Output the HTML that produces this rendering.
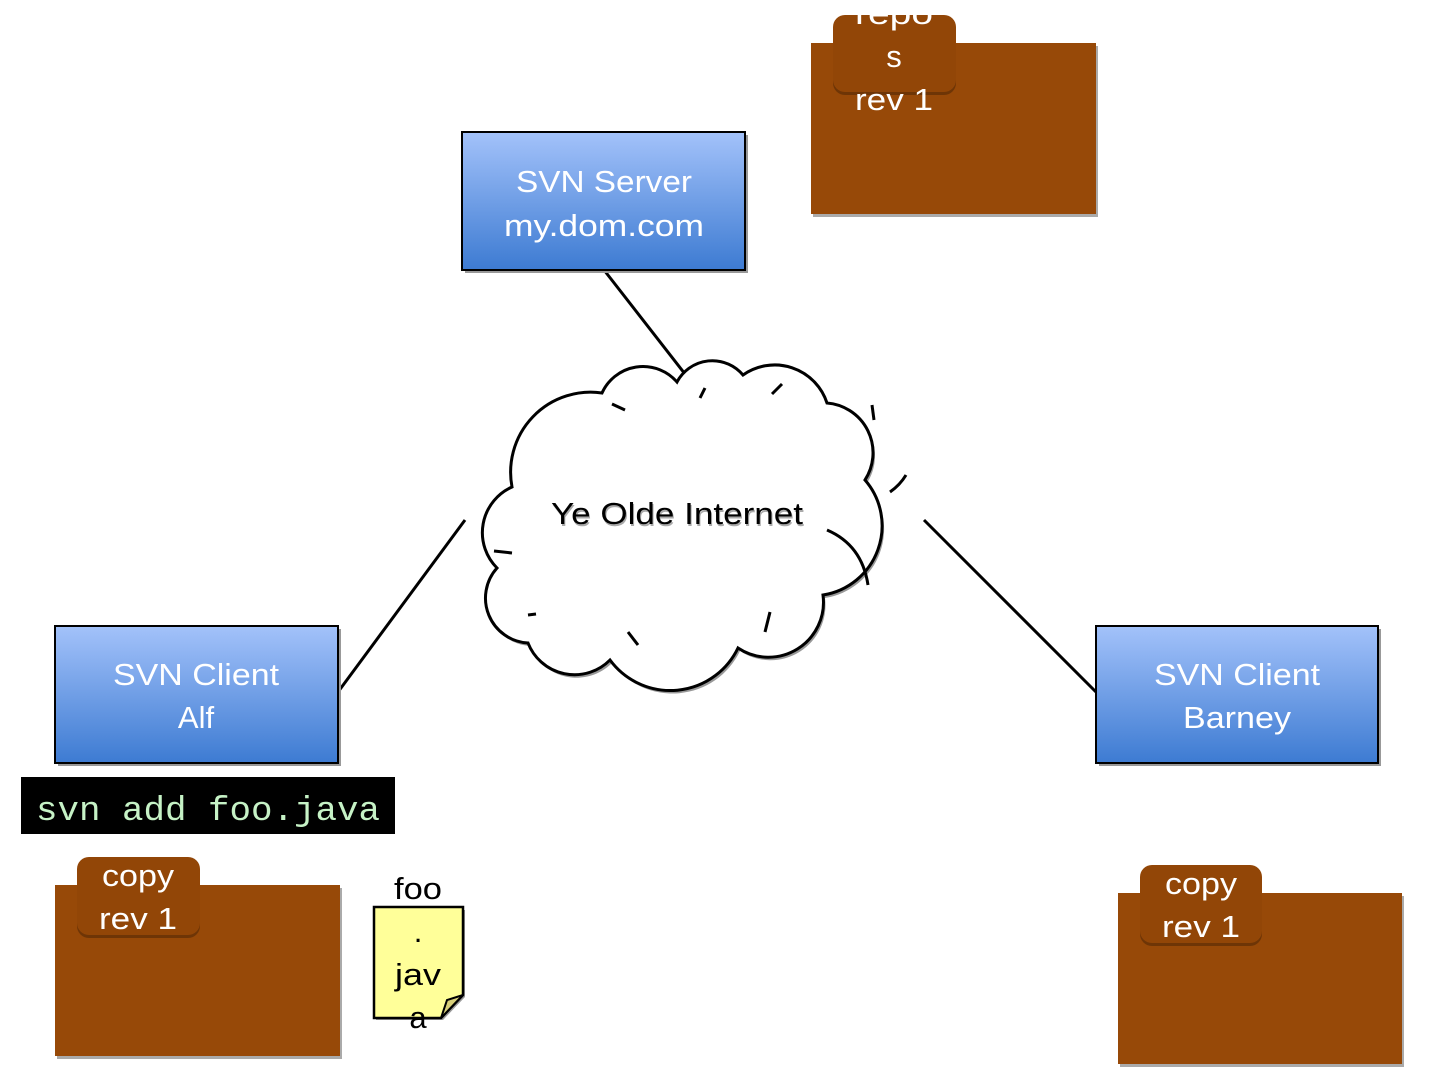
<!DOCTYPE html>
<html><head><meta charset="utf-8"><style>
html,body{margin:0;padding:0;background:#fff;}
svg{display:block;font-family:"Liberation Sans",sans-serif;}
</style></head><body>
<svg width="1440" height="1080" viewBox="0 0 1440 1080" xmlns="http://www.w3.org/2000/svg">
<defs>
<linearGradient id="bl" x1="0" y1="0" x2="0" y2="1">
<stop offset="0" stop-color="#a3c2fa"/><stop offset="1" stop-color="#3d7bd2"/>
</linearGradient>
</defs>
<g stroke="#000" stroke-width="3" fill="none">
<line x1="604" y1="270" x2="692" y2="383"/>
<line x1="338" y1="692" x2="465" y2="520"/>
<line x1="924" y1="520" x2="1096" y2="692"/>
</g>
<!-- repo folder -->
<rect x="813" y="46" width="285" height="171" fill="#aaa"/>
<rect x="811" y="43" width="285" height="171" fill="#974908"/>
<rect x="833" y="18" width="123" height="77" rx="12" fill="#6e3506"/>
<rect x="833" y="15" width="123" height="77" rx="12" fill="#924607"/>
<g fill="#fff" font-size="31" text-anchor="middle">
<text x="894" y="24" textLength="78" lengthAdjust="spacingAndGlyphs">repo</text><text x="894" y="67">s</text><text x="894" y="110" textLength="78" lengthAdjust="spacingAndGlyphs">rev 1</text>
</g>
<!-- server -->
<rect x="465" y="135" width="283" height="138" fill="#999"/>
<rect x="462" y="132" width="283" height="138" fill="url(#bl)" stroke="#000" stroke-width="2"/>
<g fill="#fff" font-size="31" text-anchor="middle">
<text x="604" y="192" textLength="176" lengthAdjust="spacingAndGlyphs">SVN Server</text><text x="604" y="236" textLength="200" lengthAdjust="spacingAndGlyphs">my.dom.com</text>
</g>
<!-- cloud -->
<path d="M512,487 A80,80 0 0 1 602,393 A45,45 0 0 1 677,382 A40,40 0 0 1 743,375 A55,55 0 0 1 827,403 A50,50 0 0 1 865,480 A70,70 0 0 1 823,595 A55,55 0 0 1 738,648 A75,75 0 0 1 610,660 A50,50 0 0 1 528,643 A45,45 0 0 1 497,568 A50,50 0 0 1 512,487 Z" fill="#999" transform="translate(2,3)"/>
<path d="M512,487 A80,80 0 0 1 602,393 A45,45 0 0 1 677,382 A40,40 0 0 1 743,375 A55,55 0 0 1 827,403 A50,50 0 0 1 865,480 A70,70 0 0 1 823,595 A55,55 0 0 1 738,648 A75,75 0 0 1 610,660 A50,50 0 0 1 528,643 A45,45 0 0 1 497,568 A50,50 0 0 1 512,487 Z" fill="#fff" stroke="#000" stroke-width="3"/>
<g stroke="#000" stroke-width="3" fill="none">
<path d="M612,404 L625,410"/><path d="M700,398 L705,388"/><path d="M772,394 L782,384"/>
<path d="M872,405 L874,420"/><path d="M890,492 Q900,485 906,475"/>
<path d="M827,530 Q862,545 868,585"/><path d="M494,551 L512,553"/>
<path d="M528,615 L536,614"/><path d="M628,632 L638,645"/><path d="M770,612 L765,632"/>
</g>
<text x="678" y="526" font-size="31" text-anchor="middle" fill="#aaa" textLength="252" lengthAdjust="spacingAndGlyphs">Ye Olde Internet</text>
<text x="677" y="524" font-size="31" text-anchor="middle" fill="#000" textLength="252" lengthAdjust="spacingAndGlyphs">Ye Olde Internet</text>
<!-- clients -->
<rect x="58" y="629" width="283" height="137" fill="#999"/>
<rect x="55" y="626" width="283" height="137" fill="url(#bl)" stroke="#000" stroke-width="2"/>
<rect x="1099" y="629" width="282" height="137" fill="#999"/>
<rect x="1096" y="626" width="282" height="137" fill="url(#bl)" stroke="#000" stroke-width="2"/>
<g fill="#fff" font-size="31" text-anchor="middle">
<text x="196" y="685" textLength="166" lengthAdjust="spacingAndGlyphs">SVN Client</text><text x="196" y="728">Alf</text>
<text x="1237" y="685" textLength="166" lengthAdjust="spacingAndGlyphs">SVN Client</text><text x="1237" y="728" textLength="108" lengthAdjust="spacingAndGlyphs">Barney</text>
</g>
<!-- terminal -->
<rect x="21" y="777" width="374" height="57" fill="#000"/>
<text x="36" y="820" font-family="Liberation Mono,monospace" font-size="34" fill="#c6f2c6" textLength="344" lengthAdjust="spacingAndGlyphs">svn add foo.java</text>
<!-- Alf folder -->
<rect x="57" y="888" width="285" height="171" fill="#aaa"/>
<rect x="55" y="885" width="285" height="171" fill="#974908"/>
<rect x="77" y="860" width="123" height="78" rx="12" fill="#6e3506"/>
<rect x="77" y="857" width="123" height="78" rx="12" fill="#924607"/>
<g fill="#fff" font-size="31" text-anchor="middle">
<text x="138" y="886" textLength="72" lengthAdjust="spacingAndGlyphs">copy</text><text x="138" y="929" textLength="78" lengthAdjust="spacingAndGlyphs">rev 1</text>
</g>
<!-- Barney folder -->
<rect x="1120" y="896" width="284" height="171" fill="#aaa"/>
<rect x="1118" y="893" width="284" height="171" fill="#974908"/>
<rect x="1140" y="868" width="122" height="78" rx="12" fill="#6e3506"/>
<rect x="1140" y="865" width="122" height="78" rx="12" fill="#924607"/>
<g fill="#fff" font-size="31" text-anchor="middle">
<text x="1201" y="894" textLength="72" lengthAdjust="spacingAndGlyphs">copy</text><text x="1201" y="937" textLength="78" lengthAdjust="spacingAndGlyphs">rev 1</text>
</g>
<!-- note -->
<path d="M376,910 H465 V997 L443,1020 H376 Z" fill="#999"/>
<path d="M374,907 H463 V995 L441,1018 H374 Z" fill="#ffff99" stroke="#000" stroke-width="2.5"/>
<path d="M441,1018 L447,1000 L463,995 Z" fill="#d8d07a" stroke="#000" stroke-width="2"/>
<g fill="#000" font-size="31" text-anchor="middle">
<text x="418" y="899" textLength="48" lengthAdjust="spacingAndGlyphs">foo</text><text x="418" y="942">.</text><text x="418" y="985" textLength="46" lengthAdjust="spacingAndGlyphs">jav</text><text x="418" y="1028">a</text>
</g>
</svg>
</body></html>
